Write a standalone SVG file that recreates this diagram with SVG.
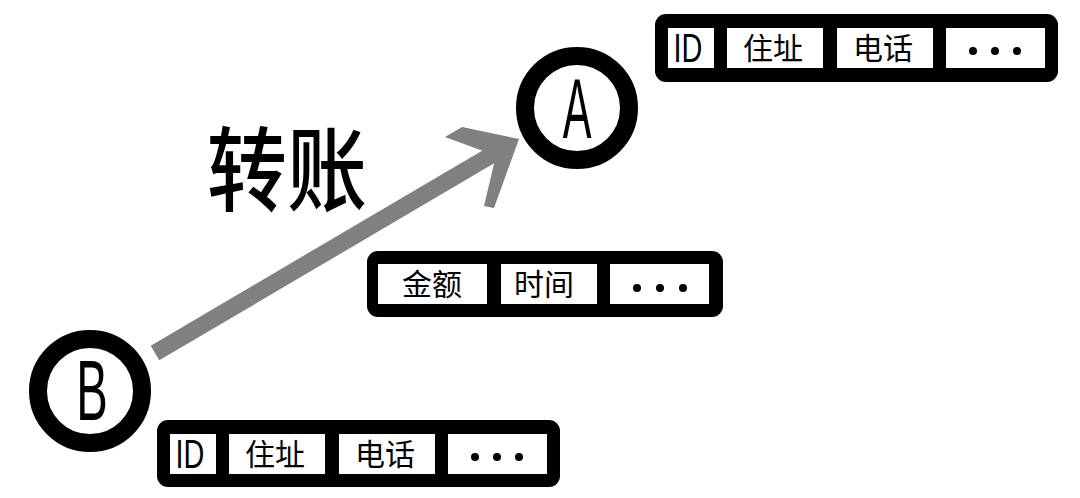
<svg xmlns="http://www.w3.org/2000/svg" width="1080" height="498" viewBox="0 0 1080 498">
<style>
.box{fill:#000}
.cell{fill:#fff}
.t{font-family:"Noto Sans CJK SC","Liberation Sans",sans-serif;font-size:30px;fill:#000;text-anchor:middle}
.id{font-family:"Liberation Sans",sans-serif;font-size:40px;fill:#000;text-anchor:middle}
.node{fill:#fff;stroke:#000;stroke-width:18}
.letter{font-family:"Liberation Sans",sans-serif;font-size:86px;fill:#000;text-anchor:middle}
.dot{fill:#000}
.arrow{fill:none;stroke:#808080;stroke-width:17}
.head{fill:#808080}
</style>
<rect width="1080" height="498" fill="#fff"/>
<g id="connectors">
<line class="arrow" x1="155" y1="353" x2="500" y2="150"/>
<polygon class="head" points="445,137 462,127 519,139 494,208 484,206 494,164 483,151"/>
</g>
<g id="label-transfer">
<text x="287" y="204" font-family="Noto Sans CJK SC, sans-serif" font-size="80" font-weight="500" text-anchor="middle" transform="translate(287 204) scale(1 1.15) translate(-287 -204)">转账</text>
</g>
<g id="node-A">
<circle class="node" cx="577" cy="108" r="52"/>
<text class="letter" transform="translate(577 138) scale(0.5 1)">A</text>
</g>
<g id="node-B">
<circle class="node" cx="90" cy="391" r="52"/>
<text class="letter" transform="translate(92 420) scale(0.55 1)">B</text>
</g>
<g id="record-A">
<rect class="box" x="655" y="14" width="403" height="68" rx="11"/>
<rect class="cell" x="668" y="28" width="46" height="40"/>
<rect class="cell" x="727" y="28" width="96" height="40"/>
<rect class="cell" x="837" y="28" width="96" height="40"/>
<rect class="cell" x="946" y="28" width="99" height="40"/>
<text class="id" transform="translate(688 62) scale(0.72 1)">ID</text>
<text class="t" x="773" y="59">住址</text>
<text class="t" x="883" y="59">电话</text>
<circle class="dot" cx="973" cy="51" r="4"/>
<circle class="dot" cx="995" cy="51" r="4"/>
<circle class="dot" cx="1017" cy="51" r="4"/>
</g>
<g id="record-transfer">
<rect class="box" x="367" y="251" width="356" height="66" rx="11"/>
<rect class="cell" x="378" y="264" width="109" height="40"/>
<rect class="cell" x="501" y="264" width="96" height="40"/>
<rect class="cell" x="610" y="264" width="99" height="40"/>
<text class="t" x="432" y="295">金额</text>
<text class="t" x="544" y="295">时间</text>
<circle class="dot" cx="637" cy="288" r="4"/>
<circle class="dot" cx="660" cy="288" r="4"/>
<circle class="dot" cx="683" cy="288" r="4"/>
</g>
<g id="record-B">
<rect class="box" x="157" y="420" width="403" height="67" rx="11"/>
<rect class="cell" x="170" y="434" width="46" height="40"/>
<rect class="cell" x="229" y="434" width="96" height="40"/>
<rect class="cell" x="339" y="434" width="96" height="40"/>
<rect class="cell" x="448" y="434" width="99" height="40"/>
<text class="id" transform="translate(190 468) scale(0.72 1)">ID</text>
<text class="t" x="275" y="465">住址</text>
<text class="t" x="385" y="465">电话</text>
<circle class="dot" cx="475" cy="457" r="4"/>
<circle class="dot" cx="497" cy="457" r="4"/>
<circle class="dot" cx="519" cy="457" r="4"/>
</g>
</svg>
